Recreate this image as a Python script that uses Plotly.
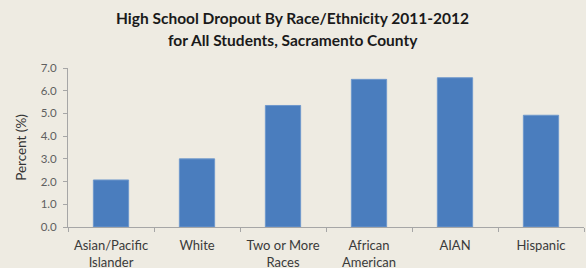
import plotly.graph_objects as go

categories = ["Asian/Pacific<br>Islander", "White", "Two or More<br>Races", "African<br>American", "AIAN", "Hispanic"]
values = [2.07, 3.0, 5.35, 6.5, 6.57, 4.92]
y_ticks = [0, 1, 2, 3, 4, 5, 6, 7]
y_tick_labels = ["0.0", "1.0", "2.0", "3.0", "4.0", "5.0", "6.0", "7.0"]
title_lines = ["High School Dropout By Race/Ethnicity 2011-2012", "for All Students, Sacramento County"]

bg = "#EEEBE2"
fig = go.Figure(go.Bar(x=categories, y=values,
                       marker=dict(color="#4A7DBE", line=dict(width=1, color="#6F98CC"))))

for i, line in enumerate(title_lines):
    fig.add_annotation(
        text=f"<b>{line}</b>", xref="paper", yref="paper",
        x=0.436, y=1, yshift=50 - i * 22, xanchor="center", yanchor="middle",
        showarrow=False,
        font=dict(family="Lato, Open Sans, sans-serif", size=15.5, color="#1a1a1a"),
    )

fig.update_layout(
    width=586, height=268,
    paper_bgcolor=bg, plot_bgcolor=bg,
    margin=dict(l=68, r=2, t=68, b=41, autoexpand=False),
    bargap=0.59,
    showlegend=False,
    font=dict(family="Lato, Open Sans, sans-serif", color="#595959", size=11),
)
fig.update_xaxes(
    showline=True, linecolor="#A6A6A6", linewidth=1,
    ticks="outside", tickson="boundaries", ticklen=4, tickcolor="#A6A6A6",
    tickfont=dict(size=13, color="#3a3a3a"),
    ticklabelstandoff=6,
    showgrid=False, automargin=False,
)
fig.update_yaxes(
    range=[0, 7], tickvals=y_ticks, ticktext=y_tick_labels,
    showline=True, linecolor="#A6A6A6", linewidth=1,
    ticks="outside", ticklen=4, tickcolor="#A6A6A6",
    ticklabelstandoff=4,
    showgrid=False, zeroline=False, automargin=False,
    tickfont=dict(size=11.5, color="#5f5f5f"),
    title=dict(text="Percent (%)", font=dict(size=13.5, color="#333333"), standoff=10),
)
fig.write_html("out.html", config={"displayModeBar": False},
               post_script="document.body.style.margin='0';")
